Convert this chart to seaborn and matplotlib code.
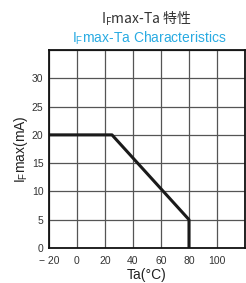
import matplotlib
matplotlib.use("Agg")
import matplotlib.pyplot as plt
import seaborn as sns
import pandas as pd

# derating curve data
ta = [-20, 25, 80, 80]
if_max = [20, 20, 5, 0]
x_ticks = [-20, 0, 20, 40, 60, 80, 100]
y_ticks = [0, 5, 10, 15, 20, 25, 30]

sns.set_style("white")
plt.rcParams['font.family'] = ['Liberation Sans', 'Noto Sans CJK JP']

df = pd.DataFrame({"Ta": ta, "IF": if_max})

fig = plt.figure(figsize=(2.46, 2.83), dpi=100)
ax = fig.add_axes([0.199, 0.124, 0.797, 0.699])

sns.lineplot(data=df, x="Ta", y="IF", sort=False, estimator=None,
             color="#1a1a1a", lw=2.2, ax=ax)

ax.set_xlim(-20, 120)
ax.set_ylim(0, 35)
ax.set_xticks(x_ticks + [120])
ax.set_xticklabels(["\u2212 20"] + [str(v) for v in x_ticks[1:]] + [""])
ax.set_yticks(y_ticks + [35])
ax.set_yticklabels([str(v) for v in y_ticks] + [""])
ax.grid(True, color="#555555", lw=0.9)
ax.tick_params(axis="x", length=0, labelsize=7.5, colors="#333333", pad=6)
ax.tick_params(axis="y", length=0, labelsize=7.5, colors="#333333", pad=4)
for s in ax.spines.values():
    s.set_color("#111111")
    s.set_linewidth(1.3)
    s.set_visible(True)

ax.set_xlabel("Ta(°C)", fontsize=10, color="#222222", labelpad=1)
ax.set_ylabel("I$\\mathregular{_F}$max(mA)", fontsize=10, color="#222222", labelpad=1)

fig.text(0.593, 0.915, "I$\\mathregular{_F}$max-Ta 特性", ha="center", fontsize=10,
         color="#333333", family="Noto Sans CJK JP")
fig.text(0.605, 0.85, "I$\\mathregular{_F}$max-Ta Characteristics", ha="center", fontsize=10, color="#29abe2")

fig.savefig("out.png", dpi=100)
